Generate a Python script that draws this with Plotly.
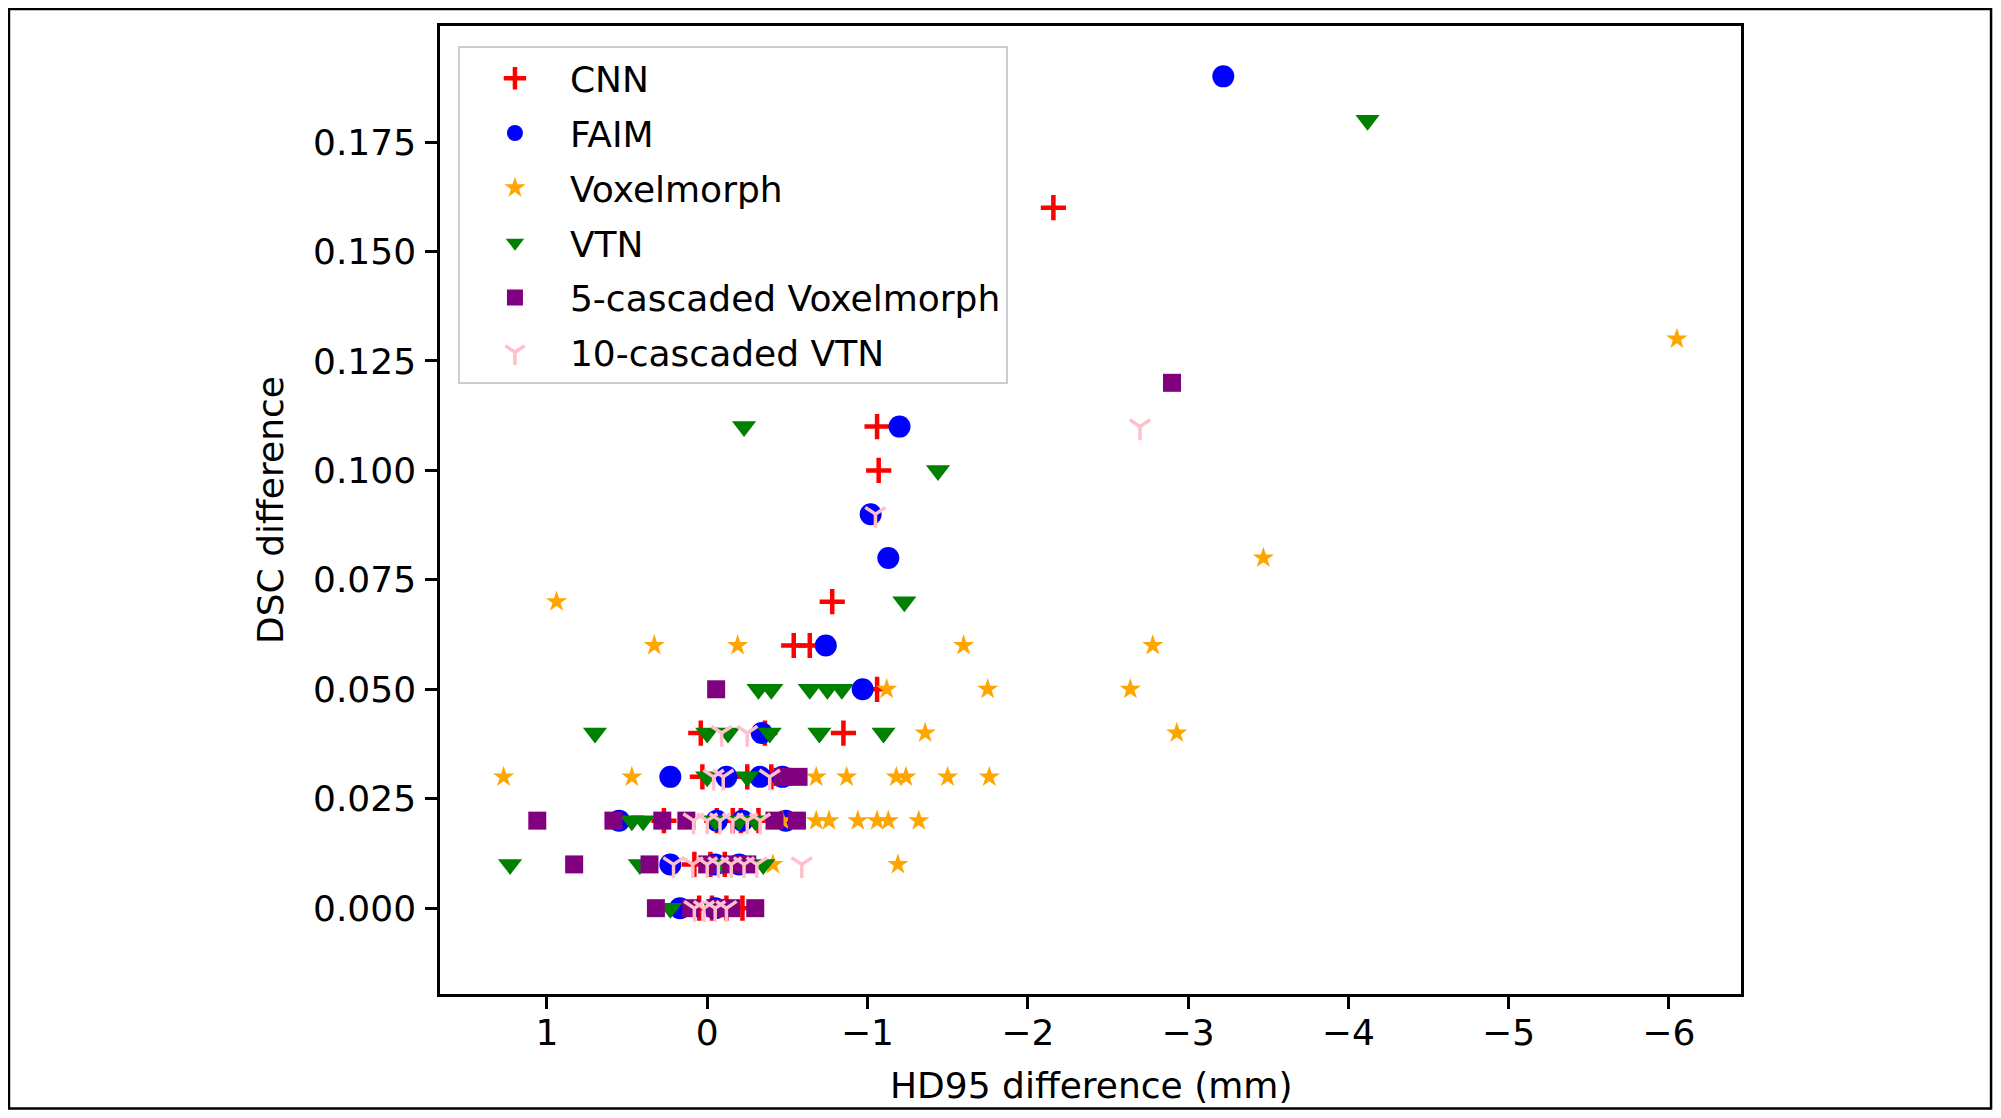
import plotly.graph_objects as go

# ---------------- data (HD95 difference mm, DSC difference) ----------------
cnn_x = [0.05, -0.03, -0.12, -0.22,
         0.08, -0.02, -0.11,
         0.27, -0.06, -0.16, -0.21, -0.32,
         0.03, -0.25, -0.40,
         0.04, -0.36, -0.85,
         -1.06,
         -0.54, -0.64,
         -0.78,
         -1.07,
         -1.06,
         -2.16]
cnn_y = [0.00, 0.00, 0.00, 0.00,
         0.01, 0.01, 0.01,
         0.02, 0.02, 0.02, 0.02, 0.02,
         0.03, 0.03, 0.03,
         0.04, 0.04, 0.04,
         0.05,
         0.06, 0.06,
         0.07,
         0.10,
         0.11,
         0.16]

faim_x = [0.17, -0.05,
          0.23, -0.05, -0.20,
          0.55, -0.06, -0.22, -0.49,
          0.23, -0.12, -0.33, -0.47,
          -0.34,
          -0.97,
          -0.74,
          -1.13,
          -1.02,
          -1.20,
          -3.22]
faim_y = [0.00, 0.00,
          0.01, 0.01, 0.01,
          0.02, 0.02, 0.02, 0.02,
          0.03, 0.03, 0.03, 0.03,
          0.04,
          0.05,
          0.06,
          0.08,
          0.09,
          0.11,
          0.19]

vox_x = [-0.41, -1.19,
         -0.47, -0.68, -0.76, -0.94, -1.06, -1.13, -1.32,
         1.27, 0.47, -0.68, -0.87, -1.18, -1.24, -1.50, -1.76,
         -1.36, -2.93,
         -1.12, -1.75, -2.64,
         0.33, -0.19, -1.60, -2.78,
         0.94,
         -3.47,
         -6.05]
vox_y = [0.01, 0.01,
         0.02, 0.02, 0.02, 0.02, 0.02, 0.02, 0.02,
         0.03, 0.03, 0.03, 0.03, 0.03, 0.03, 0.03, 0.03,
         0.04, 0.04,
         0.05, 0.05, 0.05,
         0.06, 0.06, 0.06, 0.06,
         0.07,
         0.08,
         0.13]

vtn_x = [0.23, -0.05,
         1.23, 0.42, -0.10, -0.35,
         0.47, 0.40, -0.05, -0.20, -0.30,
         0.00, -0.25,
         0.70, 0.00, -0.13, -0.39, -0.70, -1.10,
         -0.32, -0.40, -0.64, -0.75, -0.84,
         -1.23,
         -1.44,
         -0.23,
         -4.12]
vtn_y = [0.00, 0.00,
         0.01, 0.01, 0.01, 0.01,
         0.02, 0.02, 0.02, 0.02, 0.02,
         0.03, 0.03,
         0.04, 0.04, 0.04, 0.04, 0.04, 0.04,
         0.05, 0.05, 0.05, 0.05, 0.05,
         0.07,
         0.10,
         0.11,
         0.18]

casc5_x = [0.32, 0.10, -0.05, -0.15, -0.30,
           0.83, 0.36, 0.00, -0.15, -0.25,
           1.06, 0.585, 0.28, 0.13, -0.42, -0.56,
           -0.47, -0.57,
           -0.056,
           -2.90]
casc5_y = [0.00, 0.00, 0.00, 0.00, 0.00,
           0.01, 0.01, 0.01, 0.01, 0.01,
           0.02, 0.02, 0.02, 0.02, 0.02, 0.02,
           0.03, 0.03,
           0.05,
           0.12]

casc10_x = [0.08, 0.02, -0.05, -0.12,
            0.21, 0.09, 0.00, -0.07, -0.15, -0.23, -0.31, -0.59,
            0.085, 0.00, -0.08, -0.16, -0.25, -0.33,
            -0.04, -0.10, -0.39,
            -0.09, -0.25,
            -1.05,
            -2.70]
casc10_y = [0.00, 0.00, 0.00, 0.00,
            0.01, 0.01, 0.01, 0.01, 0.01, 0.01, 0.01, 0.01,
            0.02, 0.02, 0.02, 0.02, 0.02, 0.02,
            0.03, 0.03, 0.03,
            0.04, 0.04,
            0.09,
            0.11]

series_names = ["CNN", "FAIM", "Voxelmorph", "VTN",
                "5-cascaded Voxelmorph", "10-cascaded VTN"]

x_tickvals = [1, 0, -1, -2, -3, -4, -5, -6]
x_ticktext = ["1", "0", "\u22121", "\u22122", "\u22123", "\u22124", "\u22125", "\u22126"]
y_tickvals = [0.0, 0.025, 0.05, 0.075, 0.1, 0.125, 0.15, 0.175]

FONT = "DejaVu Sans"

fig = go.Figure()

fig.add_trace(go.Scatter(x=cnn_x, y=cnn_y, mode="markers", name=series_names[0],
                         legendgroup="g1",
                         marker=dict(symbol="cross-thin", size=18, color="red",
                                     line=dict(color="red", width=4.5))))
fig.add_trace(go.Scatter(x=faim_x, y=faim_y, mode="markers", name=series_names[1],
                         legendgroup="g2",
                         marker=dict(symbol="circle", size=22, color="blue",
                                     line=dict(width=0))))
fig.add_trace(go.Scatter(x=vox_x, y=vox_y, mode="markers", name=series_names[2],
                         legendgroup="g3",
                         marker=dict(symbol="star", size=16, color="#FFA500",
                                     line=dict(width=0))))
fig.add_trace(go.Scatter(x=vtn_x, y=vtn_y, mode="markers", name=series_names[3],
                         legendgroup="g4",
                         marker=dict(symbol="triangle-down", size=21, color="#008000",
                                     line=dict(width=0))))
fig.add_trace(go.Scatter(x=casc5_x, y=casc5_y, mode="markers", name=series_names[4],
                         legendgroup="g5",
                         marker=dict(symbol="square", size=18, color="#800080",
                                     line=dict(width=0))))
fig.add_trace(go.Scatter(x=casc10_x, y=casc10_y, mode="markers", name=series_names[5],
                         legendgroup="g6",
                         marker=dict(symbol="y-down", size=17, color="#FFC0CB",
                                     line=dict(color="#FFC0CB", width=3.5))))

axis_common = dict(showgrid=False, zeroline=False, showline=True, mirror=True,
                   linecolor="black", linewidth=2.5, ticks="outside", ticklen=12,
                   tickwidth=2.5, tickcolor="black",
                   tickfont=dict(family=FONT, size=36, color="black"))

fig.update_xaxes(range=[1.667, -6.45], tickvals=x_tickvals, ticktext=x_ticktext,
                 ticklabelstandoff=-7, **axis_common)
fig.update_yaxes(range=[-0.0196, 0.2015], tickvals=y_tickvals, tickformat=".3f",
                 ticklabelstandoff=2, **axis_common)

fig.update_layout(
    width=1985, height=1102, autosize=False,
    margin=dict(l=432, r=252, t=18, b=116, pad=0),
    paper_bgcolor="white", plot_bgcolor="white",
    font=dict(family=FONT, size=36, color="black"),
    showlegend=True,
    legend=dict(x=0.0138, y=0.979, xanchor="left", yanchor="top",
                bgcolor="rgba(255,255,255,0.8)", bordercolor="#cccccc",
                borderwidth=2, font=dict(family=FONT, size=36, color="black"),
                itemsizing="trace", traceorder="grouped", tracegroupgap=5,
                itemwidth=100),
    annotations=[
        dict(text="HD95 difference (mm)", xref="paper", yref="paper",
             x=0.5, y=-0.095, xanchor="center", yanchor="middle",
             showarrow=False, font=dict(family=FONT, size=36, color="black")),
        dict(text="DSC difference", xref="paper", yref="paper",
             x=-0.1307, y=0.5, xanchor="center", yanchor="middle", textangle=-90,
             showarrow=False, font=dict(family=FONT, size=36, color="black")),
    ],
    shapes=[
        dict(type="rect", xref="paper", yref="paper",
             x0=-0.3313, x1=1.1922, y0=-0.1183, y1=1.0176,
             line=dict(color="black", width=2.5), fillcolor="rgba(0,0,0,0)",
             layer="above"),
    ],
)

fig.write_html("out.html")
